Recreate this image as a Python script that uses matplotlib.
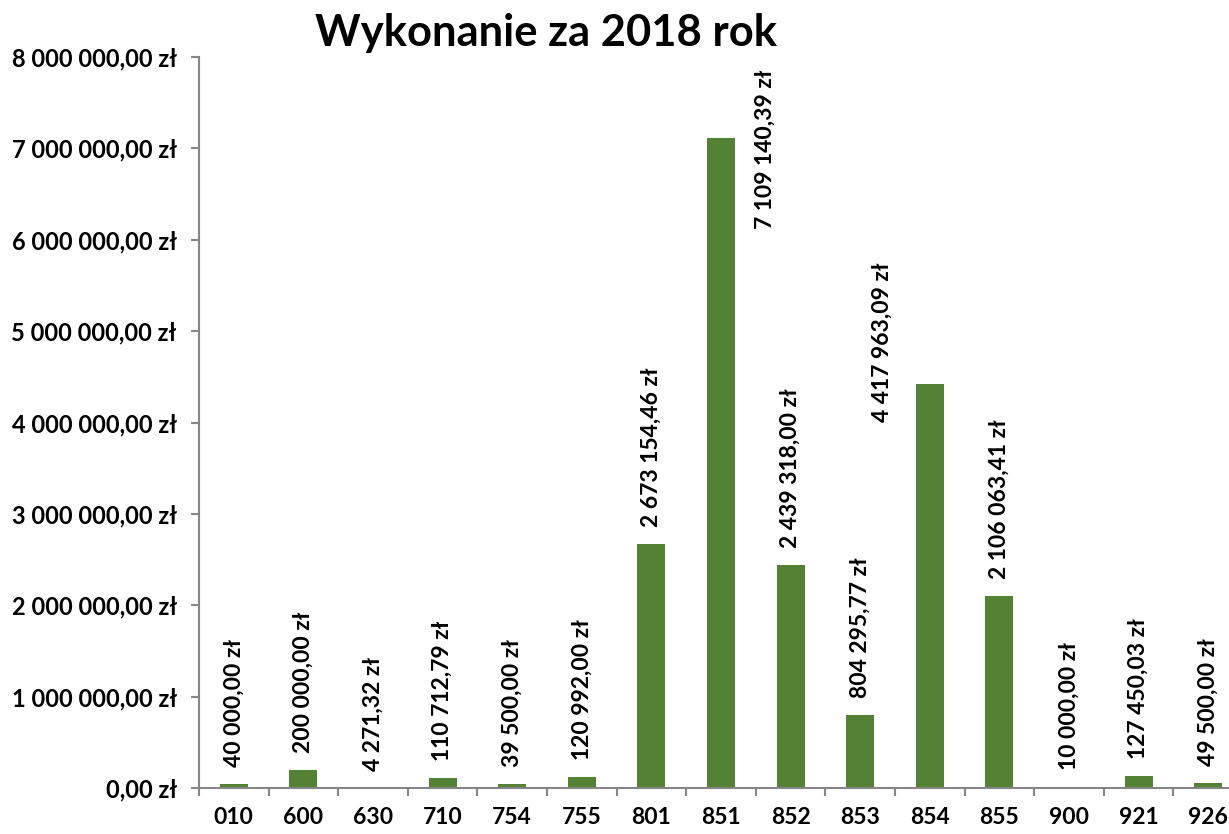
import matplotlib.pyplot as plt
from matplotlib.ticker import FuncFormatter, MultipleLocator

plt.rcParams['font.family'] = ['Lato', 'DejaVu Sans']
plt.rcParams['font.weight'] = 'bold'

kody = ['010', '600', '630', '710', '754', '755', '801', '851', '852',
        '853', '854', '855', '900', '921', '926']
wartosci = [40000.00, 200000.00, 4271.32, 110712.79, 39500.00, 120992.00,
            2673154.46, 7109140.39, 2439318.00, 804295.77, 4417963.09,
            2106063.41, 10000.00, 127450.03, 49500.00]


def zl(v, pos=None):
    return f"{v:,.2f}".replace(",", " ").replace(".", ",") + " zł"


zielony = '#548235'
szary = '#868686'

fig = plt.figure(figsize=(12.29, 8.34), dpi=100)
ax = fig.add_axes([199 / 1229, 46 / 834, 1044 / 1229, 731 / 834])

x = range(len(kody))
ax.bar(x, wartosci, width=0.4, color=zielony, zorder=2)

# etykiety danych (dwie przesunięte na bok, jak w Excelu)
przesuniecia = {'851': (44, -11, 'center'), '854': (-48, 42, 'center')}
for i, (k, v) in enumerate(zip(kody, wartosci)):
    dx, dy, va = przesuniecia.get(k, (0, 17, 'bottom'))
    ax.annotate(zl(v), (i, v), xytext=(dx * 0.72, dy * 0.72),
                textcoords='offset points', rotation=90, ha='center',
                va=va, fontsize=16.5, fontweight='bold')

ax.set_xlim(-0.5, len(kody) - 0.5)
ax.set_ylim(0, 8000000)
ax.yaxis.set_major_locator(MultipleLocator(1000000))
ax.yaxis.set_major_formatter(FuncFormatter(zl))

ax.set_xticks(list(x))
ax.set_xticklabels(kody)
ax.set_xticks([i - 0.5 for i in range(len(kody) + 1)], minor=True)
ax.tick_params(axis='x', which='major', length=0, pad=14, labelsize=16.5)
ax.tick_params(axis='x', which='minor', length=6, width=1.5, color=szary)
ax.tick_params(axis='y', length=6, width=1.5, color=szary, pad=10,
               labelsize=17)
for lab in ax.get_xticklabels() + ax.get_yticklabels():
    lab.set_fontweight('bold')

for s in ['top', 'right']:
    ax.spines[s].set_visible(False)
for s in ['left', 'bottom']:
    ax.spines[s].set_color(szary)
    ax.spines[s].set_linewidth(1.5)

fig.text(0.444, 0.96, 'Wykonanie za 2018 rok', ha='center', va='center',
         fontsize=31.3, fontweight='bold')

fig.savefig('out.png', dpi=100)
